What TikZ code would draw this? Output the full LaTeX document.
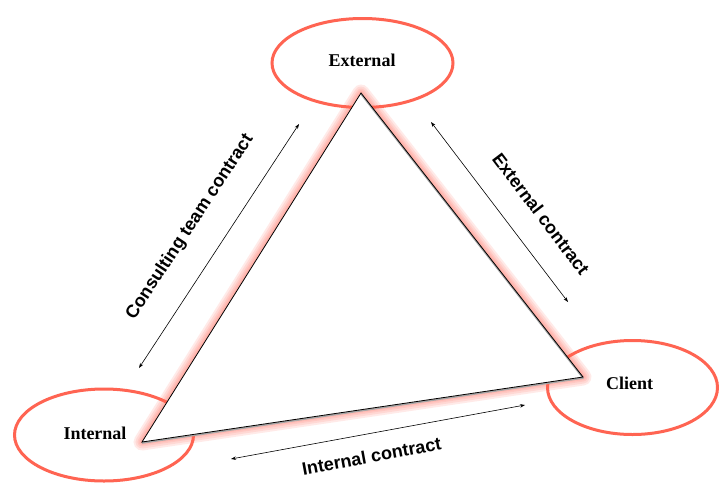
\documentclass[tikz,border=0pt]{standalone}
\usepackage{fontspec}
\setmainfont{Liberation Serif}
\setsansfont{Liberation Sans}
\usetikzlibrary{shapes.geometric, arrows.meta}
\definecolor{ringred}{RGB}{255,100,82}
\begin{document}
\begin{tikzpicture}[x=1pt, y=-1pt,
  ring/.style={draw=ringred, line width=3pt, ellipse, inner sep=0pt},
  vertexname/.style={font=\fontsize{18}{20}\selectfont\bfseries\rmfamily, inner sep=0pt},
  contract/.style={font=\fontsize{18}{20}\selectfont\bfseries\sffamily, inner sep=0pt},
  twoway/.style={{Stealth[length=5pt,width=3.5pt]}-{Stealth[length=5pt,width=3.5pt]}, line width=0.6pt},
  glow/.style={draw=ringred, opacity=0.13, line width=#1, line join=round}
]
\useasboundingbox (0,0) rectangle (719,482);
\fill[white] (0,0) rectangle (719,482);

% the three parties
\node[ring, minimum width=181pt, minimum height=89pt] (ext) at (362.5,63) {};
\node[ring, minimum width=179pt, minimum height=92pt] (int) at (104,435) {};
\node[ring, minimum width=170pt, minimum height=94pt] (cli) at (632.5,387.5) {};

% central triangle with a soft red halo
\coordinate (A) at (361,93);
\coordinate (B) at (142,442);
\coordinate (C) at (583,377);
\foreach \w in {17,13,9,6,3}
  \draw[glow=\w pt] (A) -- (B) -- (C) -- cycle;
\fill[white] (A) -- (B) -- (C) -- cycle;
\draw[gray!70, line width=1.6pt, line join=round]
  ([yshift=-1pt]B) -- ([yshift=-1pt]C) -- ([yshift=-1pt]A);
\draw[black, line width=0.8pt, line join=miter] (A) -- (B) -- (C) -- cycle;

% party names
\node[vertexname] (extname) at (362,60) {External};
\node[vertexname] (intname) at (95,433) {Internal};
\node[vertexname] (cliname) at (629.5,383) {Client};

% contract arrows
\coordinate (l1) at (139,368); \coordinate (l2) at (299,124);
\coordinate (r1) at (431,122); \coordinate (r2) at (568,302);
\coordinate (b1) at (231,459); \coordinate (b2) at (525,405);
\draw[twoway] (l1) -- (l2);
\draw[twoway] (r1) -- (r2);
\draw[twoway] (b1) -- (b2);

% contract labels
\node[contract, rotate=56.7] (ctc) at (190,227) {Consulting team contract};
\node[contract, rotate=-52.7] (exc) at (541,214) {External contract};
\node[contract, rotate=10.4] (inc) at (371.5,456) {Internal contract};
\end{tikzpicture}
\end{document}
